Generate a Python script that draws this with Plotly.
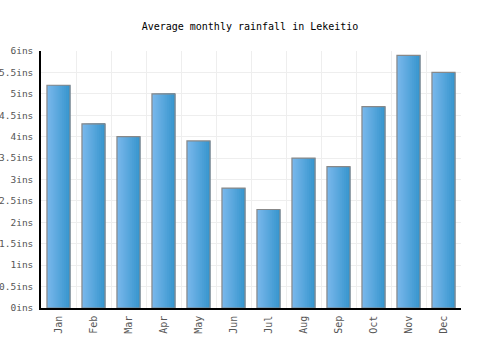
import plotly.graph_objects as go

months = ["Jan", "Feb", "Mar", "Apr", "May", "Jun", "Jul", "Aug", "Sep", "Oct", "Nov", "Dec"]
rainfall = [5.2, 4.3, 4.0, 5.0, 3.9, 2.8, 2.3, 3.5, 3.3, 4.7, 5.9, 5.5]
y_ticks = [0, 0.5, 1, 1.5, 2, 2.5, 3, 3.5, 4, 4.5, 5, 5.5, 6]
y_labels = [f"{v:g}ins" for v in y_ticks]

fig = go.Figure()

bar_w = 0.66
n_slices = 12
c0 = (0x78, 0xb7, 0xeb)
c1 = (0x38, 0x96, 0xce)
for i in range(n_slices):
    t = i / (n_slices - 1)
    col = tuple(round(a + (b - a) * t) for a, b in zip(c0, c1))
    fig.add_trace(go.Bar(
        x=months, y=rainfall,
        width=bar_w - i * bar_w / n_slices,
        offset=-bar_w / 2 + i * bar_w / n_slices,
        marker=dict(color=f"rgb{col}", line=dict(width=0)),
        hoverinfo="skip", showlegend=False,
    ))
fig.add_trace(go.Bar(
    x=months, y=rainfall, width=bar_w, offset=-bar_w / 2,
    marker=dict(color="rgba(0,0,0,0)", line=dict(color="#888888", width=1.2)),
    showlegend=False,
))

fig.update_layout(
    width=500, height=350,
    barmode="overlay",
    margin=dict(l=41, r=39, t=51, b=42),
    paper_bgcolor="white", plot_bgcolor="white",
    font=dict(family="DejaVu Sans Mono", size=10, color="#555555"),
    title=dict(text="Average monthly rainfall in Lekeitio", x=0.5, xanchor="center",
               y=0.925, yanchor="middle", font=dict(size=10, color="black")),
)
fig.update_xaxes(
    type="category", tickson="boundaries", showgrid=True, gridcolor="#eeeeee",
    tickangle=-90, showline=True, linecolor="black", linewidth=1.5,
    ticks="", range=[-0.5, 11.5], automargin=False, ticklabelstandoff=2,
)
fig.update_yaxes(
    range=[0, 6], tickvals=y_ticks, ticktext=y_labels, showgrid=True,
    gridcolor="#eeeeee", showline=True, linecolor="black", linewidth=1.5,
    ticks="", zeroline=False, automargin=False, ticklabelstandoff=4,
    tickfont=dict(size=9.5),
)

fig.write_html("out.html")
